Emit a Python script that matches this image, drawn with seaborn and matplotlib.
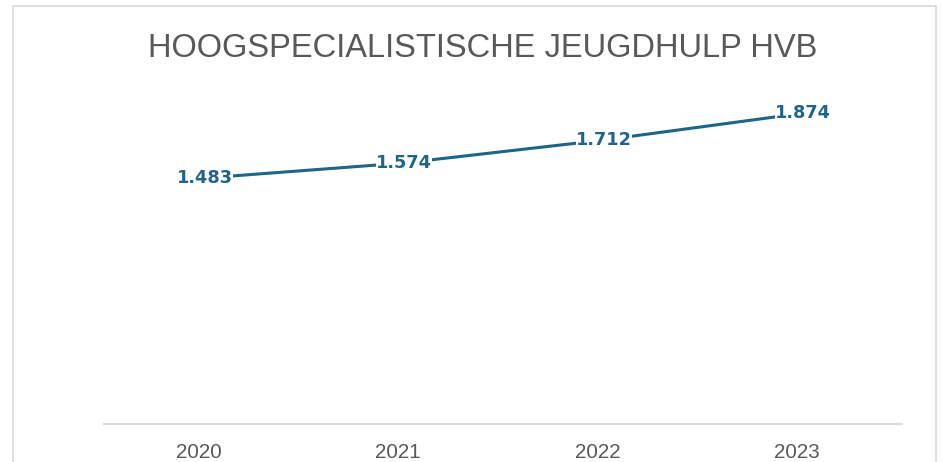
import matplotlib
matplotlib.use("Agg")
import matplotlib.pyplot as plt
import matplotlib.transforms as mtransforms
import seaborn as sns
import pandas as pd
from matplotlib.patches import Rectangle

years = ["2020", "2021", "2022", "2023"]
values = [1483, 1574, 1712, 1874]
labels = ["1.483", "1.574", "1.712", "1.874"]
title = "HOOGSPECIALISTISCHE JEUGDHULP HVB"

sns.set_theme(style="white")
plt.rcParams["font.family"] = ["Liberation Sans", "DejaVu Sans"]

df = pd.DataFrame({"year": years, "value": values})
line_color = "#1F6589"

fig = plt.figure(figsize=(9.43, 4.62), dpi=100)
ax = fig.add_axes([0.1103, 0.0823, 0.8462, 0.7177])
sns.lineplot(data=df, x="year", y="value", ax=ax, color=line_color, linewidth=2.2, sort=False)

ax.set_xlim(-0.5, 3.5)
ax.set_ylim(0, 2000)
ax.set_yticks([])
ax.set_xlabel("")
ax.set_ylabel("")
for s in ["top", "right", "left"]:
    ax.spines[s].set_visible(False)
ax.spines["bottom"].set_color("#D9D9D9")
ax.spines["bottom"].set_linewidth(1.5)
ax.tick_params(axis="x", length=0, pad=14, labelsize=14.8, labelcolor="#595959")
offset = mtransforms.ScaledTranslation(-5 / 100, 0, fig.dpi_scale_trans)
for lbl in ax.get_xticklabels():
    lbl.set_transform(lbl.get_transform() + offset)

for i, (v, lab) in enumerate(zip(values, labels)):
    ax.text(i + 0.005, v, lab, ha="center", va="center", fontsize=12.8, fontweight="bold",
            color=line_color, family="DejaVu Sans",
            bbox=dict(facecolor="white", edgecolor="none", pad=0.0, alpha=1.0))

fig.text(0.512, 0.894, title, ha="center", va="center", fontsize=23.5, color="#595959")

fig.patches.append(Rectangle((13 / 943, -0.05), (936 - 13) / 943, 1 - 6 / 462 + 0.05,
                             transform=fig.transFigure, fill=False, edgecolor="#D9D9D9",
                             linewidth=1.2, figure=fig))

fig.savefig("out.png", dpi=100)
